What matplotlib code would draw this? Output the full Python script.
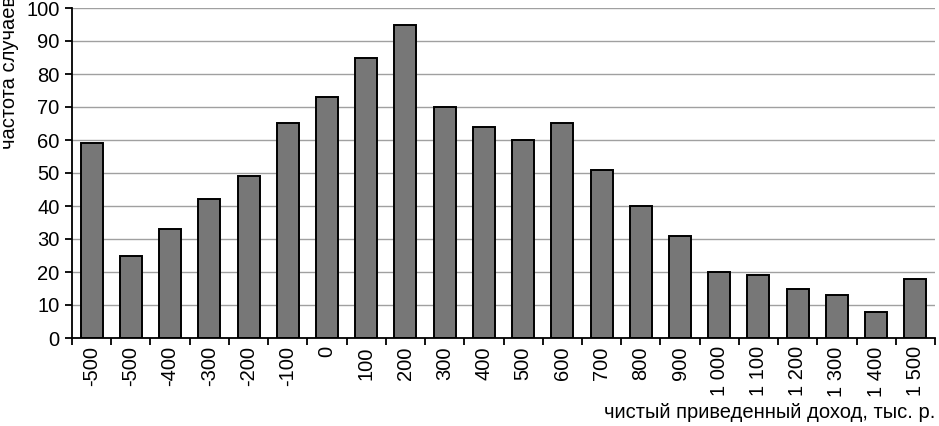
import matplotlib
matplotlib.use('Agg')
import matplotlib.pyplot as plt
import numpy as np

plt.rcParams['font.family'] = ['Liberation Sans', 'DejaVu Sans']

# данные
labels = ['-500', '-500', '-400', '-300', '-200', '-100', '0', '100', '200', '300',
          '400', '500', '600', '700', '800', '900', '1 000', '1 100', '1 200',
          '1 300', '1 400', '1 500']
freq = [59, 25, 33, 42, 49, 65, 73, 85, 95, 70, 64, 60, 65, 51, 40, 31, 20, 19,
        15, 13, 8, 18]

W, H = 939, 426
fig = plt.figure(figsize=(W / 100, H / 100), dpi=100)
ax = fig.add_axes([72 / W, 1 - 338 / H, (935 - 72) / W, 330 / H])

x = np.arange(len(freq))
ax.bar(x, freq, width=0.56, color='#777777', edgecolor='black', linewidth=1.4, zorder=3)

ax.set_xlim(-0.5, len(freq) - 0.5)
ax.set_ylim(0, 100)
ax.set_yticks(range(0, 101, 10))
ax.yaxis.grid(True, color='#a0a0a0', linewidth=1, zorder=0)

ax.set_xticks(x)
ax.set_xticklabels(labels, rotation=90)
ax.set_xticks(np.arange(-0.5, len(freq), 1), minor=True)
ax.tick_params(axis='x', which='major', length=0, pad=6, labelsize=14.5)
ax.tick_params(axis='x', which='minor', length=5, width=1.3, direction='out')
ax.tick_params(axis='y', length=5, width=1.3, labelsize=14.5, pad=4)

ax.spines['top'].set_visible(False)
ax.spines['right'].set_visible(False)
ax.spines['left'].set_linewidth(1.3)
ax.spines['bottom'].set_linewidth(1.3)
ax.spines['bottom'].set_zorder(4)

fig.text(0 / W, 1 - 72 / H, 'частота случаев', rotation=90, fontsize=14.5,
         ha='left', va='center')
fig.text(935 / W, 1 - 413 / H, 'чистый приведенный доход, тыс. р.', fontsize=14.5,
         ha='right', va='center')

fig.savefig('out.png', dpi=100)
